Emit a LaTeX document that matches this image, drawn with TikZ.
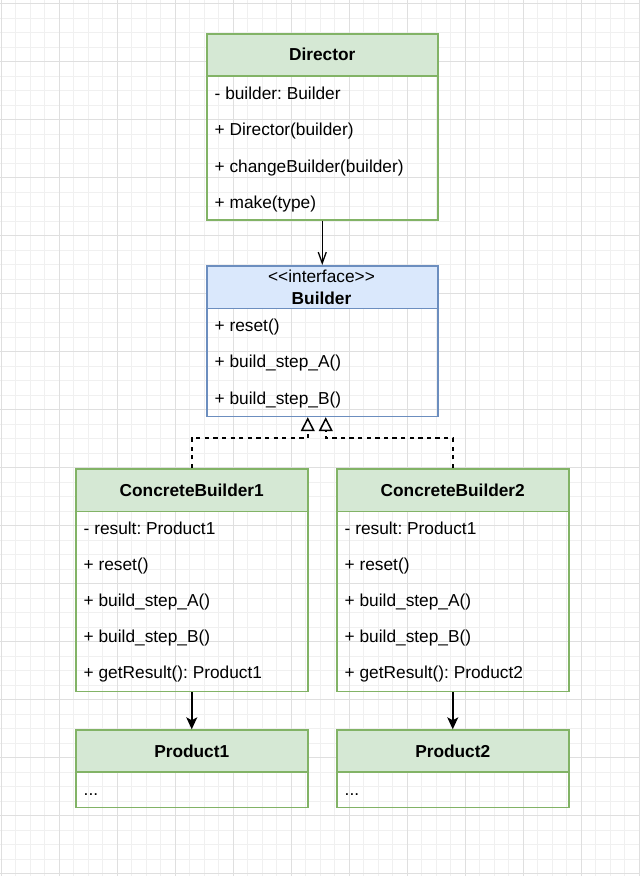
\documentclass[tikz,border=0pt]{standalone}
\usepackage{fontspec}
\setmainfont{Liberation Sans}
\usetikzlibrary{arrows.meta,calc}

\definecolor{gridminor}{HTML}{F0F0F0}
\definecolor{gridmajor}{HTML}{DFDFDF}
\definecolor{greenfill}{HTML}{D5E8D4}
\definecolor{greenline}{HTML}{82B366}
\definecolor{bluefill}{HTML}{DAE8FC}
\definecolor{blueline}{HTML}{6C8EBF}

\newcommand{\umlfont}{\fontsize{17.3}{20.8}\selectfont\frenchspacing}

\tikzset{
  classbox/.style={draw, rectangle, line width=1.5pt, anchor=north west, inner sep=0pt},
  greenbox/.style={classbox, draw=greenline},
  bluebox/.style={classbox, draw=blueline},
  greenhead/.style={greenbox, fill=greenfill, font=\umlfont\bfseries, text height=12.4pt, text depth=0pt},
  bluehead/.style={bluebox, fill=bluefill},
  member/.style={anchor=base west, inner sep=0pt},
  headline/.style={anchor=base, inner sep=0pt},
  assoc/.style={line width=1.5pt, draw=black},
  realize/.style={line width=1.5pt, dash pattern=on 4.3pt off 4.3pt, -{Triangle[open, length=14pt, width=14pt, line width=1.5pt]}},
}

\begin{document}
\begin{tikzpicture}[x=1pt, y=-1pt, font=\umlfont]
\useasboundingbox (0,0) rectangle (640,876);

% background grid
\foreach \k in {0,...,44} \draw[gridminor, line width=1pt] ({1+14.5*\k},0) -- ({1+14.5*\k},876);
\foreach \k in {0,...,60} \draw[gridminor, line width=1pt] (0,{3.8+14.5*\k}) -- (640,{3.8+14.5*\k});
\foreach \k in {0,...,11} \draw[gridmajor, line width=1pt] ({1+58*\k},0) -- ({1+58*\k},876);
\foreach \k in {0,...,15} \draw[gridmajor, line width=1pt] (0,{3.8+58*\k}) -- (640,{3.8+58*\k});

% Director
\node[greenbox, minimum width=231, minimum height=186] (director) at (206,33) {};
\node[greenhead, minimum width=231, minimum height=42] (directorhead) at (206,33) {Director};
\node[member] (dm1) at (214.5,99) {- builder: Builder};
\node[member] (dm2) at (214.5,135.5) {+ Director(builder)};
\node[member] (dm3) at (214.5,172) {+ changeBuilder(builder)};
\node[member] (dm4) at (214.5,208) {+ make(type)};

% Builder interface
\node[bluebox, minimum width=231, minimum height=150.7] (builder) at (206,265) {};
\node[bluehead, minimum width=231, minimum height=42.7] (builderhead) at (206,265) {};
\node[headline] (bstereo) at (321.5,282.3) {<{}<interface>{}>};
\node[headline, font=\umlfont\bfseries] (bname) at (321.5,304.3) {Builder};
\node[member] (bm1) at (214.5,331.5) {+ reset()};
\node[member] (bm2) at (214.5,367.8) {+ build\_step\_A()};
\node[member] (bm3) at (214.5,404) {+ build\_step\_B()};

% ConcreteBuilder1
\node[greenbox, minimum width=232, minimum height=222.7] (cb1) at (75,468) {};
\node[greenhead, minimum width=232, minimum height=42.7] (cb1head) at (75,468) {ConcreteBuilder1};
\node[member] (c1m1) at (83.5,534) {- result: Product1};
\node[member] (c1m2) at (83.5,570.5) {+ reset()};
\node[member] (c1m3) at (83.5,606.7) {+ build\_step\_A()};
\node[member] (c1m4) at (83.5,642.7) {+ build\_step\_B()};
\node[member] (c1m5) at (83.5,678.5) {+ getResult(): Product1};

% ConcreteBuilder2
\node[greenbox, minimum width=232, minimum height=222.7] (cb2) at (336,468) {};
\node[greenhead, minimum width=232, minimum height=42.7] (cb2head) at (336,468) {ConcreteBuilder2};
\node[member] (c2m1) at (344.5,534) {- result: Product1};
\node[member] (c2m2) at (344.5,570.5) {+ reset()};
\node[member] (c2m3) at (344.5,606.7) {+ build\_step\_A()};
\node[member] (c2m4) at (344.5,642.7) {+ build\_step\_B()};
\node[member] (c2m5) at (344.5,678.5) {+ getResult(): Product2};

% Product1
\node[greenbox, minimum width=232, minimum height=77.4] (p1) at (75,729.3) {};
\node[greenhead, minimum width=232, minimum height=41.7] (p1head) at (75,729.3) {Product1};
\node[member] (p1m1) at (83.5,795) {...};

% Product2
\node[greenbox, minimum width=232, minimum height=77.4] (p2) at (336,729.3) {};
\node[greenhead, minimum width=232, minimum height=41.7] (p2head) at (336,729.3) {Product2};
\node[member] (p2m1) at (344.5,795) {...};

% connectors
\draw[assoc, -{Straight Barb[length=11pt, width=8pt, line width=1.3pt]}] (director.south) -- (builder.north);

\coordinate (r1) at ($(builder.south)+(-14.5,0)$);
\coordinate (r2) at ($(builder.south)+(3.5,0)$);
\draw[realize] (cb1.north) -- ++(0,-30) -| (r1);
\draw[realize] (cb2.north) -- ++(0,-30) -| (r2);

\draw[assoc, -{Stealth[length=12pt, width=11pt, inset=3pt]}] (cb1.south) -- (p1.north);
\draw[assoc, -{Stealth[length=12pt, width=11pt, inset=3pt]}] (cb2.south) -- (p2.north);
\end{tikzpicture}
\end{document}
